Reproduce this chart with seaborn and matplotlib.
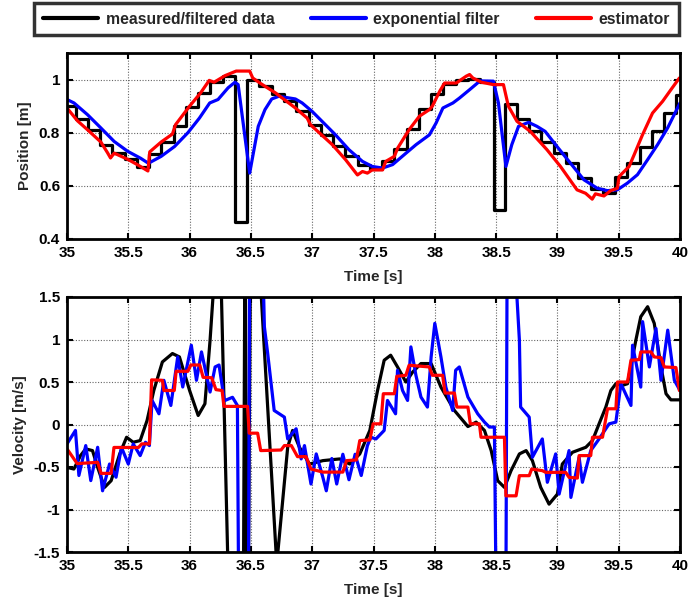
import matplotlib
matplotlib.use("Agg")
import matplotlib.pyplot as plt
import seaborn as sns
import pandas as pd
from matplotlib.lines import Line2D

# ---------------- position data ----------------
pos_meas_t = [35.0, 35.07, 35.17, 35.27, 35.37, 35.47, 35.57, 35.67, 35.77, 35.87,
              35.97, 36.07, 36.17, 36.27, 36.37, 36.47, 36.57, 36.67, 36.77, 36.87,
              36.97, 37.07, 37.17, 37.27, 37.37, 37.47, 37.57, 37.67, 37.77, 37.87,
              37.97, 38.07, 38.17, 38.27, 38.37, 38.48, 38.57, 38.67, 38.77, 38.87,
              38.97, 39.07, 39.17, 39.27, 39.37, 39.47, 39.57, 39.67, 39.77, 39.87,
              39.97, 40.0]
pos_meas = [0.900, 0.853, 0.809, 0.755, 0.723, 0.700, 0.672, 0.720, 0.765, 0.825,
            0.895, 0.950, 0.990, 1.013, 0.465, 1.000, 0.975, 0.945, 0.920, 0.880,
            0.830, 0.790, 0.750, 0.712, 0.678, 0.663, 0.695, 0.740, 0.815, 0.890,
            0.945, 0.985, 1.000, 1.003, 0.990, 0.510, 0.907, 0.850, 0.808, 0.765,
            0.725, 0.685, 0.630, 0.590, 0.575, 0.635, 0.685, 0.748, 0.805, 0.874,
            0.943, 0.943]

pos_filt_t = [35.0, 35.057, 35.167, 35.276, 35.385, 35.495, 35.6, 35.664, 35.768, 35.877,
              35.986, 36.08, 36.164, 36.232, 36.314, 36.37, 36.396, 36.49, 36.56, 36.615,
              36.67, 36.727, 36.863, 36.918, 37.0, 37.08, 37.19, 37.3, 37.41, 37.49,
              37.574, 37.656, 37.765, 37.847, 37.956, 38.01, 38.066, 38.148, 38.2, 38.284,
              38.369, 38.478, 38.519, 38.58, 38.628, 38.683, 38.765, 38.833, 38.9, 38.997,
              39.107, 39.216, 39.325, 39.407, 39.489, 39.57, 39.653, 39.735, 39.817, 39.899,
              40.0]
pos_filt = [0.925, 0.912, 0.868, 0.818, 0.767, 0.730, 0.704, 0.685, 0.711, 0.748,
            0.800, 0.855, 0.912, 0.925, 0.969, 0.990, 0.981, 0.648, 0.824, 0.887,
            0.927, 0.937, 0.927, 0.912, 0.880, 0.843, 0.792, 0.736, 0.692, 0.673,
            0.667, 0.680, 0.723, 0.755, 0.792, 0.836, 0.893, 0.912, 0.930, 0.962,
            0.995, 0.994, 0.912, 0.673, 0.755, 0.824, 0.839, 0.824, 0.805, 0.748,
            0.685, 0.623, 0.591, 0.582, 0.585, 0.610, 0.642, 0.698, 0.755, 0.818,
            0.912]

pos_est_t = [35.0, 35.085, 35.17, 35.276, 35.33, 35.355, 35.385, 35.495, 35.577, 35.66,
             35.675, 35.768, 35.86, 35.885, 36.0, 36.09, 36.16, 36.2, 36.29, 36.38,
             36.49, 36.515, 36.58, 36.7, 36.863, 36.959, 36.986, 37.164, 37.273, 37.369,
             37.41, 37.45, 37.49, 37.574, 37.6, 37.67, 37.697, 37.79, 37.874, 37.956,
             37.98, 38.04, 38.08, 38.175, 38.257, 38.284, 38.31, 38.38, 38.478, 38.56,
             38.6, 38.67, 38.779, 38.915, 39.025, 39.16, 39.23, 39.284, 39.31, 39.38,
             39.434, 39.489, 39.503, 39.585, 39.626, 39.694, 39.776, 39.858, 39.926, 39.995]
pos_est = [0.893, 0.845, 0.810, 0.765, 0.725, 0.705, 0.723, 0.700, 0.679, 0.656,
           0.728, 0.765, 0.795, 0.830, 0.900, 0.950, 0.997, 0.990, 1.015, 1.032,
           1.032, 1.006, 0.985, 0.950, 0.893, 0.855, 0.830, 0.755, 0.698, 0.641,
           0.654, 0.648, 0.660, 0.660, 0.692, 0.711, 0.742, 0.811, 0.862, 0.887,
           0.900, 0.956, 0.987, 0.987, 1.013, 1.019, 1.006, 0.990, 0.981, 0.981,
           0.900, 0.843, 0.805, 0.736, 0.673, 0.585, 0.572, 0.550, 0.570, 0.562,
           0.582, 0.591, 0.635, 0.673, 0.717, 0.792, 0.874, 0.918, 0.962, 1.006]

# ---------------- velocity data ----------------
vel_meas_t = [35.0, 35.056, 35.11, 35.153, 35.208, 35.25, 35.306, 35.36, 35.43, 35.486,
              35.54, 35.597, 35.653, 35.708, 35.778, 35.86, 35.917, 36.0, 36.07, 36.125,
              36.167, 36.2, 36.23, 36.26, 36.31, 36.38, 36.44, 36.45, 36.455, 36.465,
              36.48, 36.495, 36.54, 36.585, 36.705, 36.712, 36.72, 36.8, 36.84, 36.896,
              36.978, 37.087, 37.224, 37.306, 37.388, 37.47, 37.533, 37.587, 37.64, 37.696,
              37.764, 37.82, 37.887, 37.97, 38.05, 38.16, 38.27, 38.337, 38.405, 38.46,
              38.513, 38.568, 38.622, 38.69, 38.745, 38.796, 38.864, 38.932, 39.0, 39.04,
              39.123, 39.232, 39.286, 39.34, 39.395, 39.436, 39.477, 39.53, 39.572, 39.64,
              39.68, 39.736, 39.79, 39.845, 39.886, 39.926, 40.0]
vel_meas = [-0.504, -0.524, -0.366, -0.287, -0.307, -0.504, -0.740, -0.661, -0.346, -0.150,
            -0.209, -0.189, 0.047, 0.400, 0.736, 0.835, 0.795, 0.400, 0.106, 0.244,
            0.992, 1.700, 1.900, 1.500, -1.500, -3.000, -1.700, 1.700, 1.700, -1.700,
            -1.700, 1.700, 3.000, 1.500, -1.500, -1.700, -1.500, -0.268, -0.070, -0.268,
            -0.465, -0.425, -0.405, -0.465, -0.346, -0.070, 0.400, 0.756, 0.815, 0.677,
            0.500, 0.618, 0.717, 0.717, 0.440, 0.165, -0.024, 0.028, -0.070, -0.307,
            -0.661, -0.740, -0.543, -0.346, -0.307, -0.425, -0.740, -0.937, -0.819, -0.465,
            -0.327, -0.268, -0.189, 0.008, 0.205, 0.400, 0.480, 0.460, 0.480, 0.992,
            1.268, 1.386, 1.190, 0.677, 0.362, 0.290, 0.290]

vel_filt_t = [35.0, 35.069, 35.097, 35.153, 35.194, 35.25, 35.29, 35.347, 35.4, 35.444,
              35.5, 35.54, 35.597, 35.64, 35.672, 35.694, 35.75, 35.79, 35.847, 35.903,
              35.944, 36.014, 36.056, 36.097, 36.167, 36.208, 36.24, 36.284, 36.35, 36.39,
              36.40, 36.48, 36.49, 36.596, 36.61, 36.637, 36.69, 36.773, 36.80, 36.869,
              36.91, 36.937, 36.99, 37.033, 37.087, 37.115, 37.16, 37.2, 37.25, 37.3,
              37.35, 37.4, 37.45, 37.478, 37.52, 37.587, 37.614, 37.68, 37.696, 37.737,
              37.778, 37.805, 37.846, 37.887, 37.94, 37.97, 38.0, 38.05, 38.09, 38.146,
              38.17, 38.2, 38.27, 38.35, 38.405, 38.445, 38.486, 38.50, 38.58, 38.59,
              38.65, 38.69, 38.70, 38.77, 38.796, 38.877, 38.918, 38.986, 39.014, 39.095,
              39.11, 39.177, 39.204, 39.272, 39.34, 39.422, 39.477, 39.518, 39.6, 39.613,
              39.68, 39.695, 39.75, 39.804, 39.845, 39.9, 39.954, 40.0]
vel_filt = [-0.228, -0.070, -0.600, -0.248, -0.660, -0.268, -0.780, -0.465, -0.620, -0.268,
            -0.465, -0.228, -0.366, -0.209, -0.248, 0.283, 0.126, 0.520, 0.224, 0.795,
            0.441, 0.933, 0.520, 0.854, 0.382, 0.677, 0.700, 0.280, 0.320, 0.224,
            -2.000, -2.000, 2.000, 2.000, 1.150, 0.835, 0.165, 0.087, -0.170, -0.050,
            -0.405, -0.248, -0.700, -0.346, -0.622, -0.780, -0.400, -0.700, -0.350, -0.650,
            -0.350, -0.600, -0.250, -0.150, -0.170, -0.070, 0.283, 0.126, 0.638, 0.400,
            0.283, 0.913, 0.579, 0.323, 0.205, 0.795, 1.190, 0.795, 0.440, 0.165,
            0.638, 0.677, 0.323, 0.126, 0.028, -0.030, -0.030, -2.000, -2.000, 2.000,
            2.000, 0.992, 0.205, 0.087, -0.386, -0.170, -0.680, -0.346, -0.819, -0.307,
            -0.858, -0.386, -0.680, -0.307, -0.170, 0.008, 0.028, 0.480, 0.224, 0.933,
            0.440, 1.210, 0.677, 1.130, 0.520, 1.110, 0.520, 0.400]

vel_est_t = [35.0, 35.083, 35.25, 35.278, 35.36, 35.383, 35.583, 35.61, 35.672, 35.69,
             35.778, 35.79, 35.875, 35.89, 35.986, 36.01, 36.083, 36.11, 36.18, 36.215,
             36.265, 36.28, 36.473, 36.486, 36.555, 36.58, 36.746, 36.773, 36.83, 36.88,
             36.95, 36.99, 37.087, 37.25, 37.28, 37.36, 37.388, 37.47, 37.497, 37.56,
             37.58, 37.67, 37.69, 37.764, 37.79, 37.955, 37.98, 38.064, 38.083, 38.16,
             38.18, 38.27, 38.29, 38.364, 38.377, 38.568, 38.58, 38.663, 38.69, 38.77,
             38.79, 38.877, 38.905, 39.068, 39.095, 39.163, 39.177, 39.272, 39.286, 39.368,
             39.409, 39.477, 39.49, 39.572, 39.6, 39.668, 39.68, 39.763, 39.79, 39.845,
             39.872, 39.967, 39.995]
vel_est = [-0.287, -0.460, -0.445, -0.575, -0.575, -0.270, -0.270, -0.228, -0.228, 0.525,
           0.520, 0.400, 0.400, 0.626, 0.626, 0.700, 0.700, 0.555, 0.550, 0.410,
           0.400, 0.213, 0.213, -0.102, -0.102, -0.307, -0.300, -0.248, -0.248, -0.378,
           -0.378, -0.524, -0.560, -0.560, -0.425, -0.417, -0.189, -0.181, 0.008, 0.008,
           0.362, 0.362, 0.567, 0.579, 0.697, 0.677, 0.579, 0.579, 0.370, 0.370,
           0.205, 0.205, 0.008, 0.008, -0.150, -0.150, -0.839, -0.839, -0.602, -0.602,
           -0.524, -0.543, -0.563, -0.563, -0.622, -0.630, -0.366, -0.366, -0.150, -0.150,
           0.185, 0.185, 0.500, 0.500, 0.756, 0.764, 0.854, 0.854, 0.795, 0.787,
           0.677, 0.670, 0.400]

legend_labels = ["measured/filtered data", "exponential filter", "estimator"]
series_colors = ["black", "#0000ff", "#ff0000"]

# ---------------- styling ----------------
sns.set_theme(style="ticks")
plt.rcParams["font.family"] = ["Liberation Sans", "DejaVu Sans"]
plt.rcParams["font.weight"] = "bold"
plt.rcParams["axes.labelweight"] = "bold"

fig = plt.figure(figsize=(6.89, 6.01), dpi=100)
W, H = 689, 601
ax_pos = fig.add_axes([67 / W, 1 - 239 / H, 613 / W, 186 / H])
ax_vel = fig.add_axes([67 / W, 1 - 552 / H, 613 / W, 255 / H])

LW = 2.3


def draw(ax, t, y, color, steps=False):
    df = pd.DataFrame({"t": t, "y": y})
    kw = {"drawstyle": "steps-post"} if steps else {}
    sns.lineplot(data=df, x="t", y="y", ax=ax, color=color, lw=LW,
                 estimator=None, sort=False, legend=False, **kw)


draw(ax_pos, pos_meas_t, pos_meas, series_colors[0], steps=True)
draw(ax_pos, pos_filt_t, pos_filt, series_colors[1])
draw(ax_pos, pos_est_t, pos_est, series_colors[2])

draw(ax_vel, vel_meas_t, vel_meas, series_colors[0])
draw(ax_vel, vel_filt_t, vel_filt, series_colors[1])
draw(ax_vel, vel_est_t, vel_est, series_colors[2])

x_ticks = [35, 35.5, 36, 36.5, 37, 37.5, 38, 38.5, 39, 39.5, 40]
x_ticklabels = ["35", "35.5", "36", "36.5", "37", "37.5", "38", "38.5", "39", "39.5", "40"]

for ax, ylim, yticks, ylabels, ylab in [
    (ax_pos, (0.4, 1.1), [0.4, 0.6, 0.8, 1.0], ["0.4", "0.6", "0.8", "1"], "Position [m]"),
    (ax_vel, (-1.5, 1.5), [-1.5, -1, -0.5, 0, 0.5, 1, 1.5],
     ["-1.5", "-1", "-0.5", "0", "0.5", "1", "1.5"], "Velocity [m/s]"),
]:
    ax.set_xlim(35, 40)
    ax.set_ylim(*ylim)
    ax.set_xticks(x_ticks)
    ax.set_xticklabels(x_ticklabels, fontsize=11, fontweight="bold")
    ax.set_yticks(yticks)
    ax.set_yticklabels(ylabels, fontsize=11, fontweight="bold")
    ax.set_xlabel("Time [s]", fontsize=11, fontweight="bold", labelpad=7)
    ax.set_ylabel(ylab, fontsize=11, fontweight="bold", labelpad=5)
    ax.grid(True, color="#666666", linestyle=(0, (1, 1.5)), linewidth=0.8)
    ax.tick_params(direction="in", length=4, width=1.5, top=True, right=True,
                   pad=5, colors="black")
    for s in ax.spines.values():
        s.set_visible(True)
        s.set_linewidth(2)
        s.set_color("black")
    ax.set_facecolor("white")

handles = [Line2D([], [], color=c, lw=3) for c in series_colors]
leg = fig.legend(handles, legend_labels, loc="upper center", ncol=3,
                 bbox_to_anchor=(356.5 / W, 1 - 3 / H),
                 frameon=True, fancybox=False, handlelength=3.5, handletextpad=0.5,
                 columnspacing=2.3, borderpad=0.55, borderaxespad=0,
                 prop={"size": 11.3, "weight": "bold"})
leg.get_frame().set_edgecolor("black")
leg.get_frame().set_linewidth(2.5)

fig.savefig("out.png", dpi=100, facecolor="white")
